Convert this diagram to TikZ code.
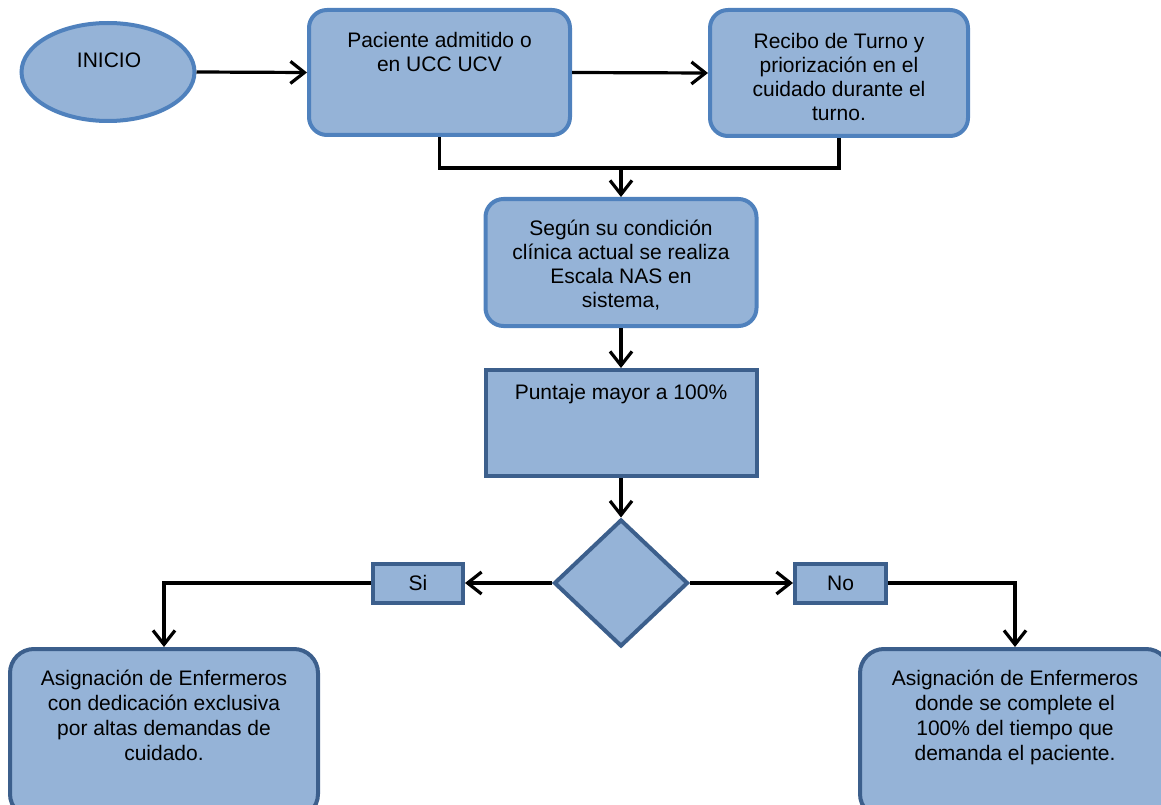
\documentclass[tikz,border=0pt]{standalone}
\usepackage{fontspec}
\setmainfont{Liberation Sans}
\usetikzlibrary{shapes.geometric,arrows.meta}
\definecolor{boxfill}{HTML}{95B3D7}
\definecolor{edgelight}{HTML}{4F81BD}
\definecolor{edgedark}{HTML}{3C5F8C}
\begin{document}
\begin{tikzpicture}[x=1pt,y=-1pt,
  txt/.style={inner sep=0pt, align=center, font=\fontsize{21}{24}\selectfont},
  txtlow/.style={txt, font=\fontsize{21}{24.8}\selectfont},
  startnode/.style={ellipse, fill=boxfill, draw=edgelight, line width=4pt, inner sep=0pt},
  softbox/.style={rectangle, rounded corners=18pt, fill=boxfill, draw=edgelight, line width=4pt, inner sep=0pt},
  hardbox/.style={rectangle, fill=boxfill, draw=edgedark, line width=4pt, inner sep=0pt},
  endbox/.style={rectangle, rounded corners=24pt, fill=boxfill, draw=edgedark, line width=4pt, inner sep=0pt},
  decision/.style={diamond, fill=boxfill, draw=edgedark, line width=4pt, inner sep=0pt},
  answer/.style={hardbox, font=\fontsize{21}{24}\selectfont},
  conn/.style={draw=black, line width=3.2pt},
  arr/.style={conn, -{Straight Barb[length=14pt,width=22pt]}}]
\useasboundingbox (0,0) rectangle (1161,805);
\clip (0,0) rectangle (1161,805);

% shapes
\node[startnode, minimum width=173pt, minimum height=98pt] (e0) at (108,72) {};
\node[softbox, minimum width=261pt, minimum height=125pt] (b1) at (439.5,72.5) {};
\node[softbox, minimum width=258pt, minimum height=126pt] (b2) at (839,73) {};
\node[softbox, minimum width=271pt, minimum height=127pt] (b3) at (621,262.5) {};
\node[hardbox, minimum width=271pt, minimum height=106pt] (b4) at (621,423) {};
\node[decision, minimum width=134pt, minimum height=127pt] (d) at (621,583) {};
\node[answer, minimum width=90pt, minimum height=39pt] (si) at (418,583) {Si};
\node[answer, minimum width=91pt, minimum height=39pt] (no) at (840.5,583) {No};
\node[endbox, minimum width=308pt, minimum height=169pt] (b5) at (164,733.5) {};
\node[endbox, minimum width=310pt, minimum height=169pt] (b6) at (1015,733.5) {};

% texts
\node[txt, anchor=north] (t0) at (109,52.2) {INICIO};
\node[txt, anchor=north] (t1) at (439.5,32.2) {Paciente admitido o\\en UCC UCV};
\node[txt, anchor=north] (t2) at (839,33.2) {Recibo de Turno y\\priorización en el\\cuidado durante el\\turno.};
\node[txt, anchor=north] (t3) at (621,220.2) {Según su condición\\clínica actual se realiza\\Escala NAS en\\sistema,};
\node[txt, anchor=north] (t4) at (621,384.2) {Puntaje mayor a 100\%};
\node[txtlow, anchor=north] (t5) at (164,670.2) {Asignación de Enfermeros\\con dedicación exclusiva\\por altas demandas de\\cuidado.};
\node[txtlow, anchor=north] (t6) at (1015,670.2) {Asignación de Enfermeros\\donde se complete el\\100\% del tiempo que\\demanda el paciente.};

% connectors
\coordinate (j) at (621,168);
\draw[arr] (e0.east) -- (b1.west);
\draw[arr] (b1.east) -- (b2.west);
\draw[conn] (b1.south) -- (b1.south |- j) -- (b2.south |- j) -- (b2.south);
\draw[arr] (j) -- (b3.north);
\draw[arr] (b3.south) -- (b4.north);
\draw[arr] (b4.south) -- (d.north);
\draw[arr] (d.west) -- (si.east);
\draw[arr] (si.west) -| (b5.north);
\draw[arr] (d.east) -- (no.west);
\draw[arr] (no.east) -| (b6.north);
\end{tikzpicture}
\end{document}
